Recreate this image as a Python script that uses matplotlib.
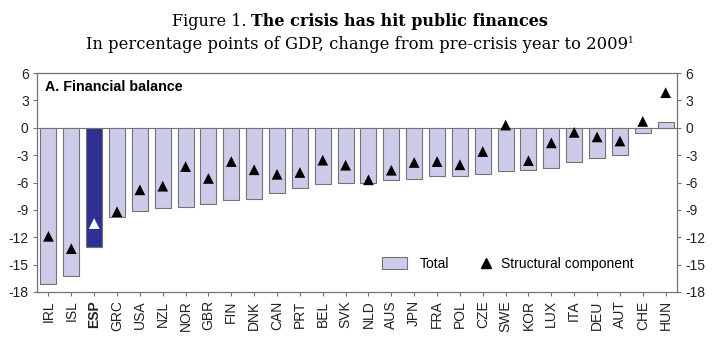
import matplotlib.pyplot as plt
import numpy as np
from matplotlib.patches import Patch
from matplotlib.lines import Line2D

countries = ['IRL', 'ISL', 'ESP', 'GRC', 'USA', 'NZL', 'NOR', 'GBR', 'FIN', 'DNK',
             'CAN', 'PRT', 'BEL', 'SVK', 'NLD', 'AUS', 'JPN', 'FRA', 'POL', 'CZE',
             'SWE', 'KOR', 'LUX', 'ITA', 'DEU', 'AUT', 'CHE', 'HUN']
total = [-17.1, -16.2, -13.1, -9.75, -9.1, -8.8, -8.65, -8.3, -7.9, -7.85,
         -7.15, -6.55, -6.15, -6.1, -6.0, -5.75, -5.6, -5.25, -5.25, -5.1,
         -4.7, -4.65, -4.45, -3.8, -3.35, -3.0, -0.55, 0.65]
structural = [-11.9, -13.25, -10.5, -9.2, -6.8, -6.4, -4.25, -5.55, -3.7, -4.6,
              -5.1, -4.9, -3.55, -4.1, -5.7, -4.65, -3.8, -3.7, -4.05, -2.6,
              0.3, -3.6, -1.65, -0.5, -1.0, -1.45, 0.7, 3.85]
highlight = 'ESP'
yticks = [6, 3, 0, -3, -6, -9, -12, -15, -18]

light = '#ccccea'
dark = '#2e3192'
edge = '#737373'

plt.rcParams['font.family'] = ['Liberation Sans', 'DejaVu Sans']

fig = plt.figure(figsize=(7.2, 3.48), dpi=100)
ax = fig.add_axes([0.0514, 0.161, 0.889, 0.629])

x = np.arange(len(countries))
colors = [dark if c == highlight else light for c in countries]
ax.bar(x, total, width=0.7, color=colors, edgecolor=edge, linewidth=0.8, zorder=2)

tri_colors = ['white' if c == highlight else 'black' for c in countries]
ax.scatter(x, structural, marker='^', s=60, c=tri_colors, edgecolors='none', zorder=3)

ax.axhline(0, color=edge, linewidth=0.8, zorder=1)

ax.set_xlim(-0.5, len(countries) - 0.5)
ax.set_ylim(-18, 6)
ax.set_yticks(yticks)
ax.set_yticklabels([str(v) for v in yticks])
ax.set_xticks(x)
ax.set_xticklabels(countries, rotation=90)
for lab in ax.get_xticklabels():
    if lab.get_text() == highlight:
        lab.set_fontweight('bold')

ax.tick_params(axis='both', direction='out', length=3, width=0.8, color=edge,
               labelsize=10, labelcolor='#222222', pad=3)
ax.tick_params(axis='y', right=True, labelright=True)
for sp in ax.spines.values():
    sp.set_color(edge)
    sp.set_linewidth(0.9)

ax.text(0.013, 0.935, 'A. Financial balance', transform=ax.transAxes,
        fontsize=10.3, fontweight='bold', va='center', ha='left')

# legend: two separate boxes so the keys can have different widths
fig.legend([Patch(facecolor=light, edgecolor=edge, linewidth=0.8)], ['Total'],
           loc='center left', bbox_to_anchor=(0.5306, 0.2414), frameon=False,
           fontsize=10, handlelength=1.8, handleheight=0.9, handletextpad=0.95,
           borderpad=0, borderaxespad=0)
fig.legend([Line2D([], [], marker='^', color='black', linestyle='none', markersize=7)],
           ['Structural component'], loc='center left', bbox_to_anchor=(0.6653, 0.2414),
           frameon=False, fontsize=10, handlelength=1.0, handletextpad=0.6,
           borderpad=0, borderaxespad=0)

serif = 'DejaVu Serif'
r = fig.canvas.get_renderer()


def centred_row(parts, y):
    # lay out text pieces side by side and centre the whole row
    texts = [fig.text(0, y + dy, s, va='center', family=serif, **kw) for s, dy, kw in parts]
    widths = [t.get_window_extent(r).width for t in texts]
    xpos = (720 - sum(widths)) / 2
    for t, w in zip(texts, widths):
        t.set_x(xpos / 720)
        xpos += w


centred_row([('Figure 1. ', 0, dict(fontsize=11.5)),
             ('The crisis has hit public finances', 0, dict(fontsize=11.5, fontweight='bold'))],
            0.939)
centred_row([('In percentage points of GDP, change from pre-crisis year to 2009', 0,
              dict(fontsize=11.8)),
             ('1', 0.012, dict(fontsize=6.5))],
            0.873)

fig.savefig('out.png', dpi=100)
